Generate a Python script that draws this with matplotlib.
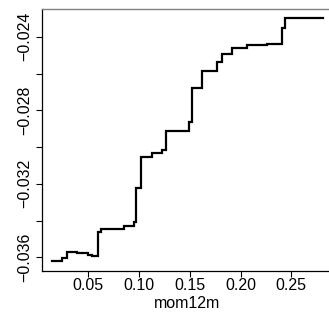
import matplotlib
matplotlib.use("Agg")
import matplotlib.pyplot as plt
import numpy as np

plt.rcParams['font.family'] = ['Liberation Sans', 'DejaVu Sans']

# Step breakpoints (mom12m) and partial dependence levels
x_vals = [0.0140, 0.0238, 0.0290, 0.0389, 0.0497, 0.0536, 0.0593, 0.0625,
          0.0855, 0.0953, 0.0970, 0.1016, 0.1124, 0.1223, 0.1262, 0.1495,
          0.1524, 0.1617, 0.1771, 0.1817, 0.1918, 0.2060, 0.2257, 0.2405,
          0.2438, 0.2815]
y_vals = [-0.03618, -0.03602, -0.03569, -0.03576, -0.03589, -0.03594, -0.03461, -0.03445,
          -0.03430, -0.03406, -0.03225, -0.03056, -0.03034, -0.03016, -0.02911, -0.02862,
          -0.02677, -0.02585, -0.02539, -0.02496, -0.02463, -0.02445, -0.02437, -0.02354,
          -0.02300, -0.02300]

x_ticks = [0.05, 0.10, 0.15, 0.20, 0.25]
x_ticklabels = ["0.05", "0.10", "0.15", "0.20", "0.25"]
y_ticks = [-0.036, -0.034, -0.032, -0.030, -0.028, -0.026, -0.024]
y_ticklabels = ["\u22120.036", "", "\u22120.032", "", "\u22120.028", "", "\u22120.024"]
x_label = "mom12m"

W, H = 329, 320
fig = plt.figure(figsize=(W / 100, H / 100), dpi=100)
left_px, right_px, top_px, bottom_px = 41.7, 333.0, 9.0, 270.7
ax = fig.add_axes([left_px / W, 1 - bottom_px / H, (right_px - left_px) / W, (bottom_px - top_px) / H])

ax.plot(x_vals, y_vals, drawstyle='steps-post', color='black', lw=1.6, solid_joinstyle='miter')

ax.set_xlim(0.00409, 0.2911)
ax.set_ylim(-0.03673, -0.02249)
ax.set_xticks(x_ticks)
ax.set_xticklabels(x_ticklabels)
ax.set_yticks(y_ticks)
ax.set_yticklabels(y_ticklabels, rotation=90, va='center')
ax.tick_params(axis='both', direction='out', length=4.0, width=0.8, labelsize=11.5, colors='black')
ax.tick_params(axis='x', pad=1.5)
ax.tick_params(axis='y', pad=3)
ax.set_xlabel(x_label, fontsize=11.5, labelpad=2)

ax.spines['right'].set_visible(False)
ax.spines['top'].set_color('#808080')
ax.spines['top'].set_linewidth(1.0)
for s in ['left', 'bottom']:
    ax.spines[s].set_linewidth(0.9)
    ax.spines[s].set_color('black')

fig.savefig("out.png", dpi=100)
